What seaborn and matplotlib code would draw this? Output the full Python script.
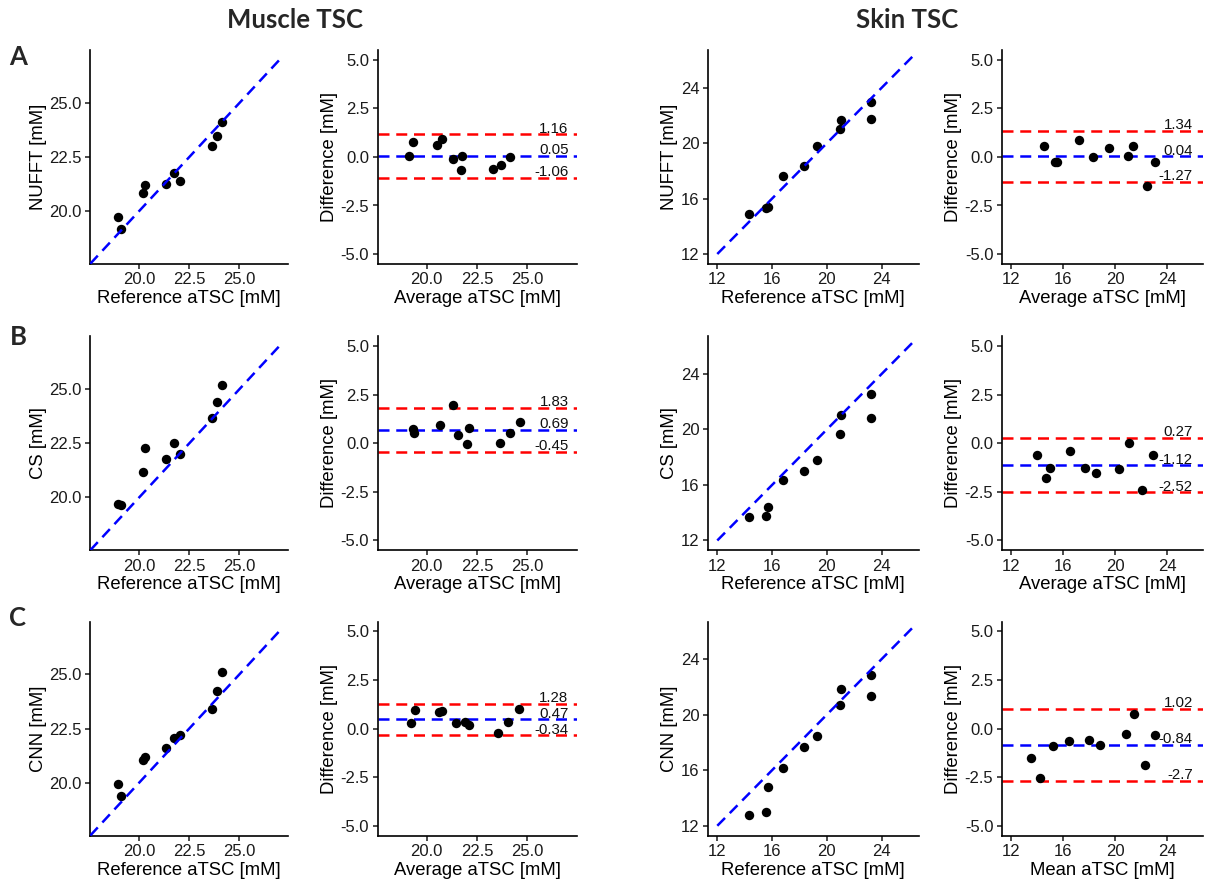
import matplotlib
matplotlib.use("Agg")
import matplotlib.pyplot as plt
import numpy as np
import pandas as pd
import seaborn as sns

sns.set_theme(style="ticks")
plt.rcParams["font.family"] = ["Liberation Sans", "DejaVu Sans"]
plt.rcParams["axes.unicode_minus"] = False

# reference aTSC values
ref_muscle = [18.95, 19.10, 20.20, 20.29, 21.34, 21.72, 22.02, 23.63, 23.89, 24.12]
ref_skin = [14.31, 15.55, 15.68, 16.77, 18.31, 19.30, 20.98, 21.05, 23.20, 23.22]

# reconstructed aTSC per method
nufft_muscle = [19.71, 19.16, 20.84, 21.20, 21.23, 21.75, 21.37, 22.99, 23.49, 24.12]
cs_muscle = [19.69, 19.64, 21.16, 22.28, 21.79, 22.51, 22.00, 23.67, 24.41, 25.20]
cnn_muscle = [19.92, 19.38, 21.04, 21.19, 21.61, 22.05, 22.20, 23.41, 24.23, 25.10]

nufft_skin = [14.86, 15.29, 15.40, 17.66, 18.33, 19.77, 21.01, 21.64, 22.96, 21.73]
cs_skin = [13.69, 13.79, 14.39, 16.38, 17.02, 17.78, 19.64, 21.04, 22.58, 20.84]
cnn_skin = [12.81, 12.98, 14.77, 16.14, 17.70, 18.46, 20.70, 21.81, 22.86, 21.35]

# Bland-Altman lines: upper LoA, bias, lower LoA (as printed)
loa_muscle = {"NUFFT": [1.16, 0.05, -1.06], "CS": [1.83, 0.69, -0.45], "CNN": [1.28, 0.47, -0.34]}
loa_skin = {"NUFFT": [1.34, 0.04, -1.27], "CS": [0.27, -1.12, -2.52], "CNN": [1.02, -0.84, -2.7]}

methods = ["NUFFT", "CS", "CNN"]
row_letters = ["A", "B", "C"]

W, H = 1206, 888
fig = plt.figure(figsize=(W / 100, H / 100), dpi=100)

cols = [(90.3, 288.3), (377.5, 576.5), (707.7, 918.7), (1001.6, 1202.5)]
rows = [(50.3, 263.7), (336.4, 550.2), (621.5, 835.5)]

LINE_KW = dict(linewidth=1.8, dashes=(4.4, 2.7))
TICK_COLOR = "#1a1a1a"


def px_axes(col, row):
    left, right = cols[col]
    top, bottom = rows[row]
    return fig.add_axes([left / W, 1 - bottom / H, (right - left) / W, (bottom - top) / H])


def style(ax):
    sns.despine(ax=ax)
    for s in ["left", "bottom"]:
        ax.spines[s].set_color("black")
        ax.spines[s].set_linewidth(1.2)
    ax.tick_params(axis="both", length=3.5, width=1.1, color=TICK_COLOR,
                   labelsize=12, labelcolor=TICK_COLOR, pad=2.5)
    ax.grid(False)


def fmt1(v):
    return f"{v:.1f}"


def scatter_panel(ax, ref, meth, lims, line_span, ticks, ylabel):
    df = pd.DataFrame({"ref": ref, "meth": meth})
    sns.scatterplot(data=df, x="ref", y="meth", ax=ax, color="black", s=46,
                    linewidth=0, zorder=2)
    ax.plot(line_span, line_span, color="#0000ff", zorder=3, **LINE_KW)
    ax.set_xlim(lims)
    ax.set_ylim(lims)
    ax.set_xticks(ticks)
    ax.set_yticks(ticks)
    if ticks[1] - ticks[0] < 3:
        ax.set_xticklabels([fmt1(t) for t in ticks])
        ax.set_yticklabels([fmt1(t) for t in ticks])
    else:
        ax.set_xticklabels([str(t) for t in ticks])
        ax.set_yticklabels([str(t) for t in ticks])
    ax.set_xlabel("Reference aTSC [mM]", fontsize=13.3, color="black", labelpad=2)
    ax.set_ylabel(ylabel, fontsize=13.3, color="black", labelpad=2)
    style(ax)


def ba_panel(ax, ref, meth, loa, xlims, ticks, text_x, xlabel):
    ref = np.asarray(ref)
    meth = np.asarray(meth)
    df = pd.DataFrame({"avg": (ref + meth) / 2, "diff": meth - ref})
    up, bias, low = loa
    ax.axhline(up, color="#ff0000", zorder=1, **LINE_KW)
    ax.axhline(bias, color="#0000ff", zorder=1, **LINE_KW)
    ax.axhline(low, color="#ff0000", zorder=1, **LINE_KW)
    sns.scatterplot(data=df, x="avg", y="diff", ax=ax, color="black", s=46,
                    linewidth=0, zorder=3)
    for v in loa:
        ax.text(text_x, v + 0.08, f"{v}", ha="right", va="baseline", fontsize=10.8,
                color="#111111", zorder=4)
    ax.set_xlim(xlims)
    ax.set_ylim(-5.5, 5.5)
    ax.set_xticks(ticks)
    if ticks[1] - ticks[0] < 3:
        ax.set_xticklabels([fmt1(t) for t in ticks])
    else:
        ax.set_xticklabels([str(t) for t in ticks])
    yt = [-5, -2.5, 0, 2.5, 5]
    ax.set_yticks(yt)
    ax.set_yticklabels([fmt1(t) for t in yt])
    ax.set_xlabel(xlabel, fontsize=13.3, color="black", labelpad=2)
    ax.set_ylabel("Difference [mM]", fontsize=13.3, color="black", labelpad=2)
    style(ax)


muscle_data = {"NUFFT": nufft_muscle, "CS": cs_muscle, "CNN": cnn_muscle}
skin_data = {"NUFFT": nufft_skin, "CS": cs_skin, "CNN": cnn_skin}

for r, m in enumerate(methods):
    ax = px_axes(0, r)
    scatter_panel(ax, ref_muscle, muscle_data[m], (17.55, 27.45), (17.55, 27.15),
                  [20, 22.5, 25], f"{m} [mM]")
    ax = px_axes(1, r)
    ba_panel(ax, ref_muscle, muscle_data[m], loa_muscle[m], (17.55, 27.45),
             [20, 22.5, 25], 27.05, "Average aTSC [mM]")
    ax = px_axes(2, r)
    scatter_panel(ax, ref_skin, skin_data[m], (11.3, 26.7), (12, 26.3),
                  [12, 16, 20, 24], f"{m} [mM]")
    ax = px_axes(3, r)
    xl = "Mean aTSC [mM]" if m == "CNN" else "Average aTSC [mM]"
    ba_panel(ax, ref_skin, skin_data[m], loa_skin[m], (11.3, 26.7),
             [12, 16, 20, 24], 25.97, xl)

# column headers and row letters
head_font = ["Lato", "Liberation Sans", "DejaVu Sans"]
fig.text(295 / W, 1 - 20 / H, "Muscle TSC", ha="center", va="center", fontsize=18.5,
         fontweight="bold", family=head_font)
fig.text(907 / W, 1 - 20 / H, "Skin TSC", ha="center", va="center", fontsize=18.5,
         fontweight="bold", family=head_font)
for letter, y in zip(row_letters, [57, 337, 618]):
    fig.text(18 / W, 1 - y / H, letter, ha="center", va="center", fontsize=18.5,
             fontweight="bold", family=head_font)

fig.savefig("out.png", dpi=100, facecolor="white")
